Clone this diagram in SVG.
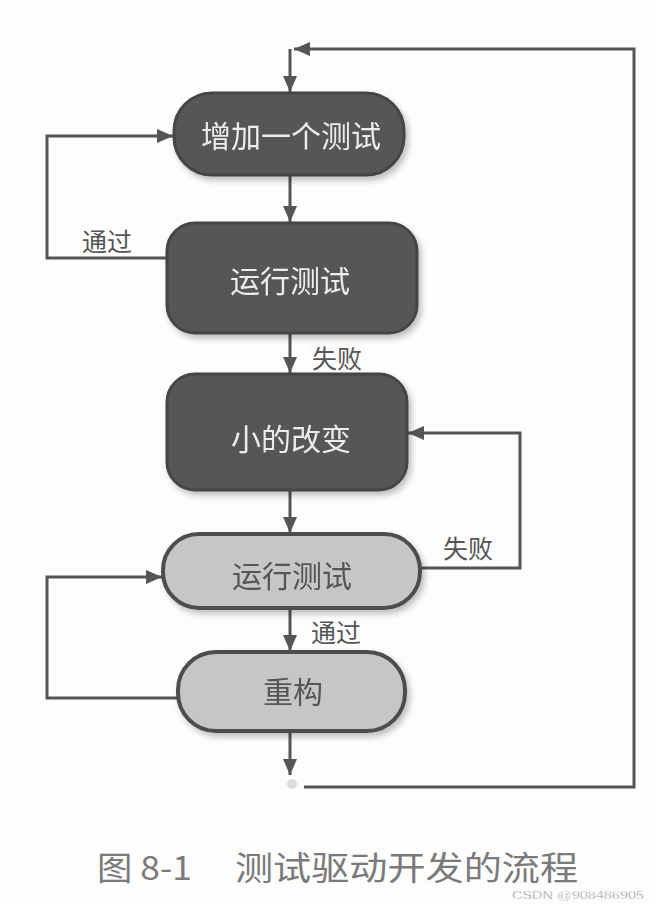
<svg xmlns="http://www.w3.org/2000/svg" width="658" height="904" viewBox="0 0 658 904">
<defs>
<marker id="arr" markerUnits="userSpaceOnUse" markerWidth="18" markerHeight="16" refX="16" refY="7" orient="auto">
<path d="M0,0 L16,7 L0,14 z" fill="#555"/>
</marker>
<filter id="sh" x="-10%" y="-10%" width="130%" height="140%">
<feGaussianBlur in="SourceAlpha" stdDeviation="3"/>
<feOffset dx="3" dy="4"/>
<feComponentTransfer><feFuncA type="linear" slope="0.25"/></feComponentTransfer>
<feMerge><feMergeNode/><feMergeNode in="SourceGraphic"/></feMerge>
</filter>
</defs>
<style>
.dark{fill:#575757;stroke:#454545;stroke-width:3}
.light{fill:#c6c6c6;stroke:#4e4e4e;stroke-width:4}
.tw{font-family:"Noto Sans CJK SC",sans-serif;font-size:30px;fill:#ececec;text-anchor:middle;dominant-baseline:central}
.tg{font-family:"Noto Sans CJK SC",sans-serif;font-size:30px;fill:#555;text-anchor:middle;dominant-baseline:central}
.lbl{font-family:"Noto Sans CJK SC",sans-serif;font-size:25px;fill:#555;text-anchor:middle;dominant-baseline:central}
.ln{fill:none;stroke:#555;stroke-width:3}
</style>
<rect width="658" height="904" fill="#fdfdfd"/>
<g id="connectors">
<path class="ln" d="M304,787 H634 V49 H294" marker-end="url(#arr)"/>
<path class="ln" d="M290,49 V92" marker-end="url(#arr)"/>
<path class="ln" d="M290,175 V222" marker-end="url(#arr)"/>
<path class="ln" d="M167,258 H47 V136 H173" marker-end="url(#arr)"/>
<path class="ln" d="M290,333 V373" marker-end="url(#arr)"/>
<path class="ln" d="M290,490 V533" marker-end="url(#arr)"/>
<path class="ln" d="M421,568 H520 V433 H408" marker-end="url(#arr)"/>
<path class="ln" d="M290,608 V651" marker-end="url(#arr)"/>
<path class="ln" d="M177,698 H47 V577 H162" marker-end="url(#arr)"/>
<path class="ln" d="M290,730 V775" marker-end="url(#arr)"/>
<circle cx="292" cy="784" r="5" fill="#dcdcdc"/>
<text class="lbl" x="107" y="240">通过</text>
<text class="lbl" x="337" y="357">失败</text>
<text class="lbl" x="468" y="547">失败</text>
<text class="lbl" x="336" y="631">通过</text>
</g>
<g id="n1" filter="url(#sh)">
<rect class="dark" x="174" y="93" width="230" height="82" rx="38"/>
<text class="tw" x="291" y="134">增加一个测试</text>
</g>
<g id="n2" filter="url(#sh)">
<rect class="dark" x="167" y="223" width="250" height="110" rx="28"/>
<text class="tw" x="290" y="279">运行测试</text>
</g>
<g id="n3" filter="url(#sh)">
<rect class="dark" x="167" y="374" width="240" height="116" rx="28"/>
<text class="tw" x="291" y="437">小的改变</text>
</g>
<g id="n4" filter="url(#sh)">
<rect class="light" x="163" y="534" width="257" height="74" rx="36"/>
<text class="tg" x="292" y="574">运行测试</text>
</g>
<g id="n5" filter="url(#sh)">
<rect class="light" x="178" y="652" width="227" height="79" rx="38"/>
<text class="tg" x="293" y="690">重构</text>
</g>
<g id="caption">
<text x="97" y="880" font-family="Noto Sans CJK SC, sans-serif" font-size="33" fill="#7a7a7a" textLength="95" lengthAdjust="spacingAndGlyphs">图 8-1</text>
<text x="235" y="880" font-family="Noto Sans CJK SC, sans-serif" font-size="33" fill="#7a7a7a" textLength="343" lengthAdjust="spacingAndGlyphs">测试驱动开发的流程</text>
<text x="512" y="899" font-family="Liberation Sans, sans-serif" font-size="11" fill="#777" stroke="#fff" stroke-width="0.4" textLength="132" lengthAdjust="spacingAndGlyphs">CSDN @908486905</text>
</g>
</svg>
